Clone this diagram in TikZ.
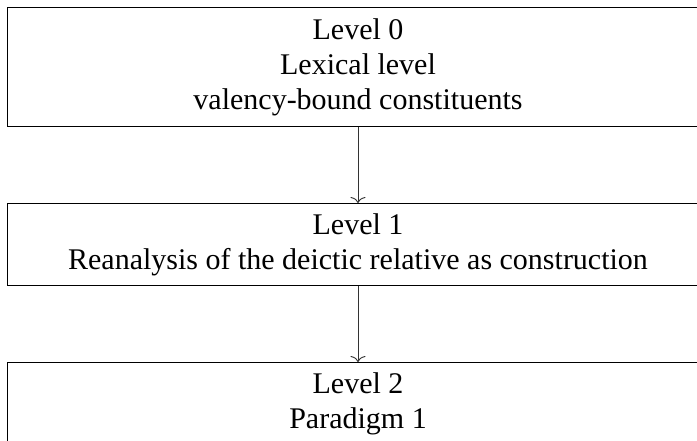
\documentclass[tikz,border=0pt]{standalone}
\usepackage{fontspec}
\usetikzlibrary{arrows.meta}
\setmainfont{Liberation Serif}
\begin{document}
\begin{tikzpicture}[x=1pt,y=1pt,
  levelbox/.style={draw, line width=1.3pt, minimum width=700.5pt, align=center,
    inner xsep=6pt, inner ysep=0pt, anchor=north,
    font=\fontsize{30}{35}\selectfont},
  link/.style={-{To[length=6pt,width=15pt]}, line width=0.9pt, black!80}]
\useasboundingbox (0,0) rectangle (697,-440);
\node[levelbox, minimum height=119pt] (l0) at (358,-7) {Level 0\\Lexical level\\valency-bound constituents};
\node[levelbox, minimum height=82pt] (l1) at (358,-203) {Level 1\\Reanalysis of the deictic relative as construction};
\node[levelbox, minimum height=82pt] (l2) at (358,-362) {Level 2\\Paradigm 1};
\draw[link] (l0.south) -- (l1.north);
\draw[link] (l1.south) -- (l2.north);
\end{tikzpicture}
\end{document}
